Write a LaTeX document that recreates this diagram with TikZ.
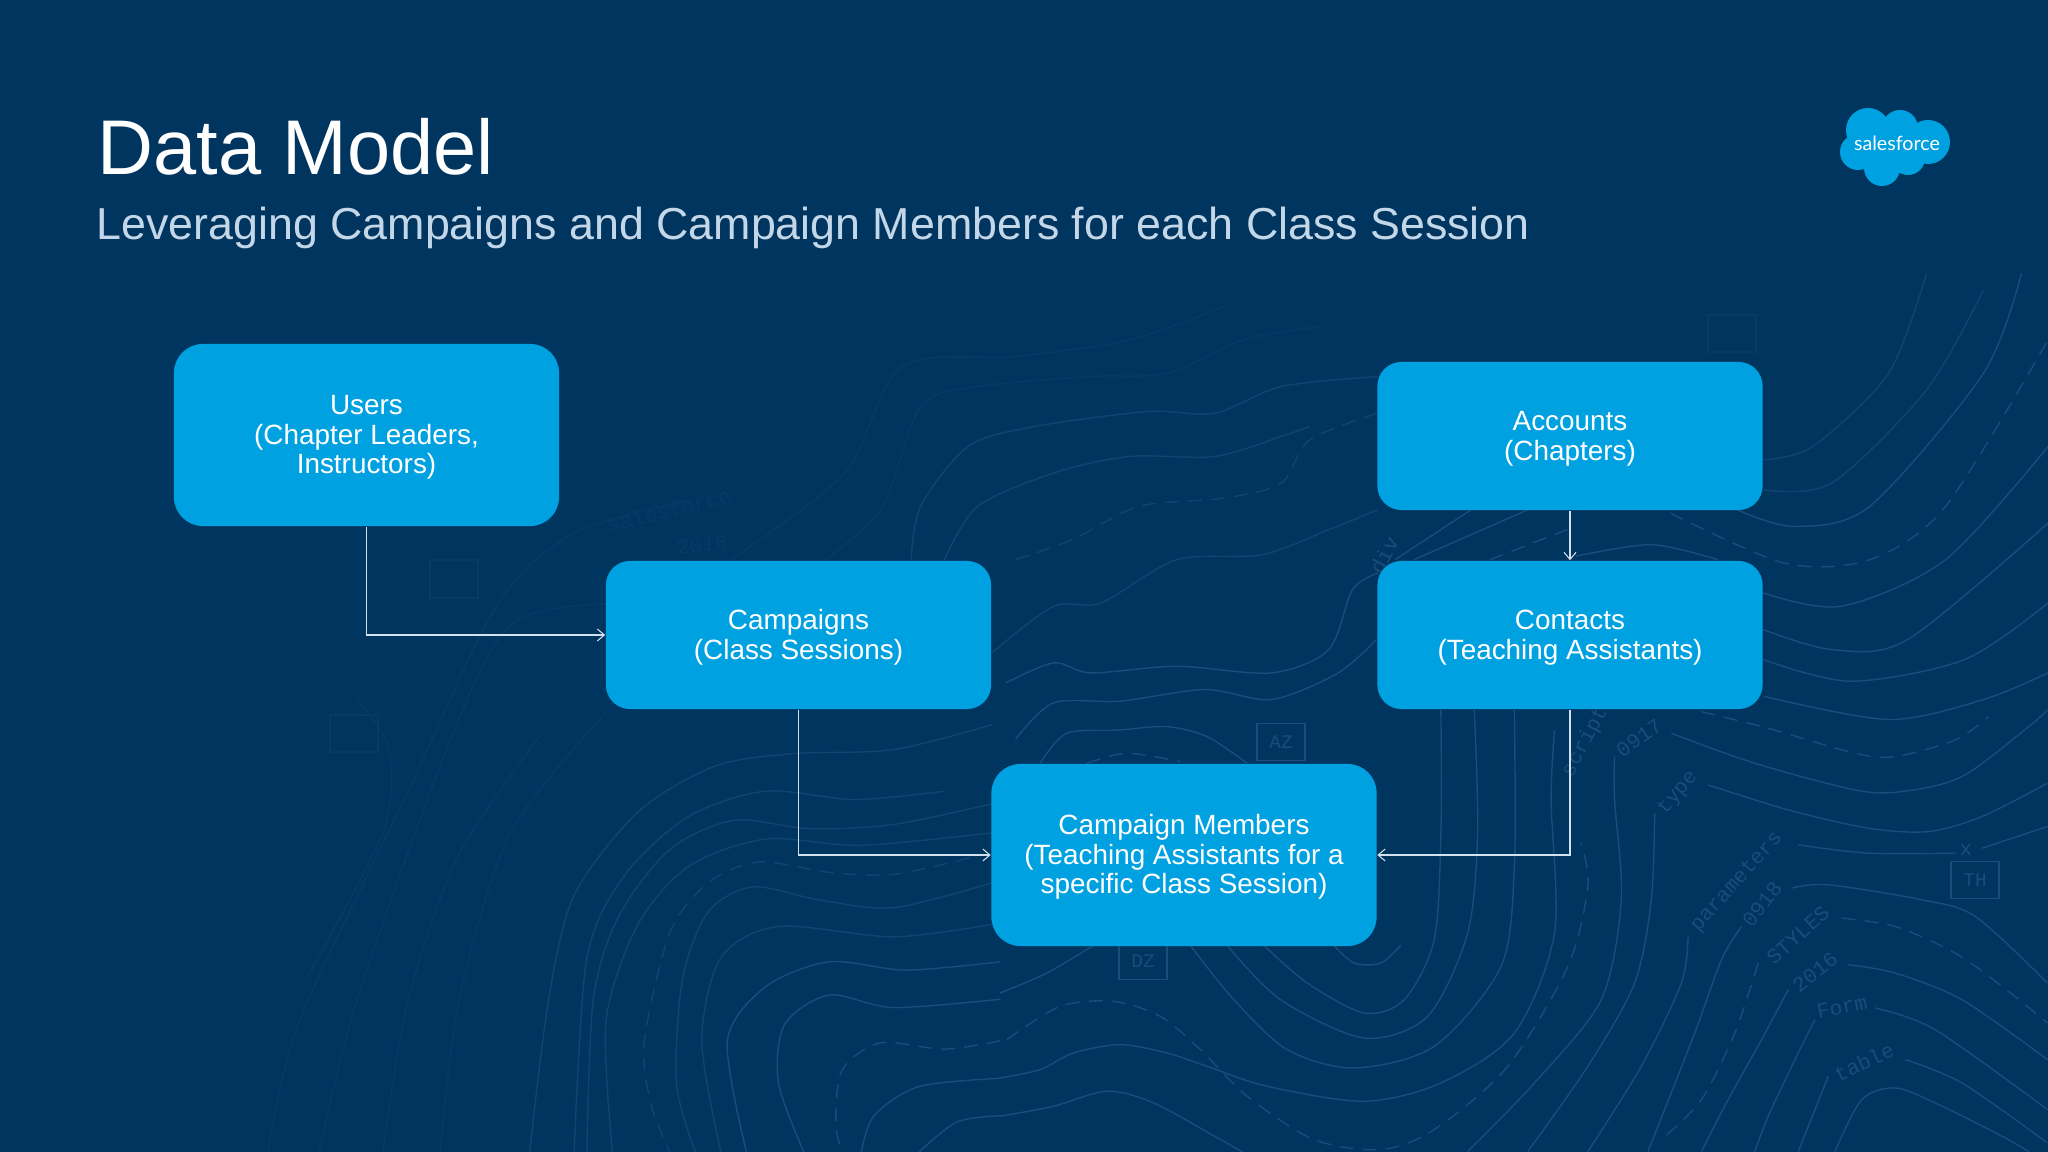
\documentclass[tikz,border=0pt]{standalone}
\usepackage{fontspec}
\setmainfont{Liberation Sans}
\newfontfamily\codefont{Liberation Mono}
\newfontfamily\logofont{Lato}
\usetikzlibrary{arrows.meta}
\newcommand{\topgap}{\rule{0pt}{6.8pt}}
\definecolor{slide}{HTML}{003560}
\definecolor{boxblue}{HTML}{00A1E0}
\definecolor{contour}{HTML}{1C4C79}
\definecolor{contourmid}{HTML}{124470}
\definecolor{contourfaint}{HTML}{083A66}
\definecolor{subtitle}{HTML}{C3D7E8}
\definecolor{linkline}{HTML}{D3E1EE}
\tikzset{
  entity/.style={fill=boxblue, text=white, align=center, minimum width=3.85cm, inner sep=0pt,
    font=\fontsize{7.93}{8.5}\selectfont},
  small/.style={entity, minimum height=1.48cm, rounded corners=0.24cm},
  large/.style={entity, minimum height=1.82cm, rounded corners=0.29cm},
  link/.style={draw=linkline, line width=0.3pt, -{Straight Barb[length=2pt,width=3.4pt]}},
  level/.style={draw=contour, line width=0.4pt},
  leveldash/.style={level, dash pattern=on 0.14cm off 0.09cm},
  levelmid/.style={draw=contourmid, line width=0.4pt},
  levelmiddash/.style={levelmid, dash pattern=on 0.14cm off 0.09cm},
  levelfaint/.style={draw=contourfaint, line width=0.4pt},
  tag/.style={font=\codefont\fontsize{6}{7}\selectfont, text=contour, inner sep=0pt},
  tagfaint/.style={tag, text=contourfaint},
  codebox/.style={tag, draw=contour, line width=0.4pt, minimum width=0.48cm, minimum height=0.37cm, font=\codefont\fontsize{5.5}{6}\selectfont}
}
\begin{document}
\begin{tikzpicture}[x=0.01cm,y=-0.01cm]
\useasboundingbox (0,0) rectangle (2048,1152);
\fill[slide] (0,0) rectangle (2048,1152);
\begin{scope}
\clip (0,0) rectangle (2048,1152);
% lower right
\begin{scope}[shift={(1000,700)},xscale=0.668,yscale=0.333]
\draw[level] plot[smooth] coordinates {(395,737) (460,850) (545,940) (605,900) (650,720) (660,400) (660,30)};
\draw[level] plot[smooth] coordinates {(340,737) (420,900) (545,1015) (640,950) (700,700) (715,400) (710,30)};
\draw[level] plot[smooth] coordinates {(285,737) (350,900) (430,1050) (530,1105) (650,1040) (750,800) (770,500) (770,30)};
\draw[level] plot[smooth] coordinates {(0,1135) (60,1110) (110,1060) (180,1035) (250,1060) (310,1100) (400,1160) (545,1205) (660,1150) (770,1000) (830,700) (825,300) (830,90)};
\draw[leveldash] plot[smooth] coordinates {(10,1020) (90,920) (170,905) (240,950) (300,1050) (370,1190) (470,1320) (570,1350) (650,1290) (760,1100) (850,800) (880,560) (870,430)};
\draw[level] plot[smooth] coordinates {(0,1250) (80,1220) (160,1175) (230,1210) (330,1320) (400,1400)};
\draw[level] plot[smooth] coordinates {(0,880) (70,820) (140,737)};
\draw[level] plot[smooth] coordinates {(60,190) (100,100) (180,90) (250,80) (310,110) (370,190)};
\draw[leveldash] plot[smooth] coordinates {(130,190) (190,160) (270,185)};
\draw[level] plot[smooth] coordinates {(600,737) (570,790) (530,790) (500,737)};
\draw[level] plot[smooth] coordinates {(920,170) (920,300) (930,600) (900,900) (800,1150) (700,1356)};
\draw[level] plot[smooth] coordinates {(980,340) (975,600) (950,850) (880,1100) (790,1356)};
\draw[level] plot[smooth] coordinates {(1030,710) (1020,850) (960,1100) (880,1356)};
\draw[level] plot[smooth] coordinates {(1110,680) (1080,780) (1040,1000) (970,1356)};
\draw[leveldash] plot[smooth] coordinates {(1135,790) (1100,1000) (1050,1200) (990,1320)};
\draw[level] plot[smooth] coordinates {(1180,870) (1140,1020) (1090,1200) (1050,1356)};
\draw[level] plot[smooth] coordinates {(1220,960) (1190,1080) (1150,1250) (1130,1356)};
\draw[level] plot[smooth] coordinates {(1240,1130) (1210,1280) (1195,1356)};
\draw[level] plot[smooth] coordinates {(1250,1356) (1290,1200) (1340,1165) (1400,1210) (1500,1310) (1540,1356)};
\draw[level] plot[smooth] coordinates {(1005,100) (1130,190) (1280,270) (1350,275) (1440,230) (1540,80) (1568,30)};
\draw[level] plot[smooth] coordinates {(1060,255) (1180,330) (1300,385) (1390,395) (1470,350) (1568,250)};
\draw[level] plot[smooth] coordinates {(1195,435) (1300,460) (1430,460)};
\draw[level] plot[smooth] coordinates {(1470,445) (1568,380)};
\draw[level] plot[smooth] coordinates {(1185,565) (1240,555) (1380,600) (1460,650) (1568,850)};
\draw[leveldash] plot[smooth] coordinates {(1260,655) (1340,680) (1430,760) (1500,860) (1568,970)};
\draw[level] plot[smooth] coordinates {(1270,795) (1340,820) (1440,900) (1568,1080)};
\draw[level] plot[smooth] coordinates {(1310,925) (1400,990) (1568,1230)};
\draw[level] plot[smooth] coordinates {(1355,1080) (1440,1150) (1568,1330)};
\draw[leveldash] plot[smooth] coordinates {(1050,35) (1150,85) (1280,160) (1340,170) (1430,120) (1480,50)};
\end{scope}
% lower left
\begin{scope}[xscale=0.638,yscale=0.416,shift={(0,1202)}]
\draw[levelmid] plot[smooth] coordinates {(1555,540) (1400,600) (1240,610) (1120,640) (1000,750) (900,950) (860,1200) (830,1568)};
\draw[levelmid] plot[smooth] coordinates {(1480,700) (1340,720) (1200,700) (1080,760) (980,900) (920,1100) (900,1568)};
\draw[levelmid] plot[smooth] coordinates {(1555,730) (1400,780) (1270,790) (1150,770) (1050,840) (970,1000) (930,1200) (920,1568)};
\draw[levelmid] plot[smooth] coordinates {(1555,800) (1350,830) (1200,815) (1080,880) (1000,1020) (950,1250) (960,1568)};
\draw[levelmiddash] plot[smooth] coordinates {(1520,860) (1400,900) (1300,895) (1190,870) (1110,920) (1050,1040) (1010,1300) (1020,1450) (1050,1568)};
\draw[levelmid] plot[smooth] coordinates {(1555,920) (1400,980) (1280,960) (1180,930) (1110,990) (1070,1150) (1060,1400) (1090,1568)};
\draw[levelmid] plot[smooth] coordinates {(1555,1020) (1400,1050) (1220,1025) (1130,1100) (1100,1300) (1130,1568)};
\draw[level] plot[smooth] coordinates {(1568,1110) (1420,1130) (1300,1110) (1200,1170) (1140,1300) (1170,1568)};
\draw[level] plot[smooth] coordinates {(1568,1200) (1400,1220) (1300,1190) (1230,1260) (1220,1400) (1260,1568)};
\draw[leveldash] plot[smooth] coordinates {(1568,1300) (1480,1320) (1380,1305) (1320,1370) (1310,1500) (1320,1568)};
\draw[level] plot[smooth] coordinates {(1568,1390) (1440,1410) (1370,1480) (1350,1568)};
\draw[level] plot[smooth] coordinates {(1568,1480) (1500,1495) (1440,1568)};
\draw[levelfaint] plot[smooth] coordinates {(950,510) (800,800) (720,1200) (690,1568)};
\draw[levelfaint] plot[smooth] coordinates {(850,560) (720,850) (640,1200) (600,1568)};
\draw[levelfaint] plot[smooth] coordinates {(950,250) (800,300) (700,600) (560,1200) (500,1568)};
\draw[levelfaint] plot[smooth] coordinates {(1080,0) (900,80) (780,250) (640,700) (470,1250) (420,1568)};
\draw[levelfaint] plot[smooth] coordinates {(560,480) (610,600) (600,800) (480,1150)};
\end{scope}
% upper middle and right
\begin{scope}[shift={(560,240)},xscale=0.949,yscale=0.333]
\draw[levelmid] plot[smooth] coordinates {(405,960) (440,800) (520,700) (600,650) (690,650) (760,590) (790,560)};
\draw[levelmid] plot[smooth] coordinates {(370,960) (380,800) (430,620) (500,560) (620,515) (690,520) (760,440) (862,410)};
\draw[levelfaint] plot[smooth] coordinates {(280,960) (340,800) (380,500) (440,440) (560,410) (640,400) (720,300) (800,260)};
\draw[levelfaint] plot[smooth] coordinates {(180,960) (300,700) (360,380) (480,350) (600,300) (700,200)};
\draw[levelmiddash] plot[smooth] coordinates {(480,960) (540,900) (610,800) (700,775) (760,730) (790,600) (862,520)};
\draw[levelmid] plot[smooth] coordinates {(455,1240) (520,1100) (570,1090) (650,960) (740,945) (810,870) (862,810)};
\draw[level] plot[smooth] coordinates {(470,1330) (520,1270) (560,1300) (650,1280) (750,1300) (810,1230) (835,1050) (862,1000)};
\draw[level] plot[smooth] coordinates {(480,1500) (520,1390) (590,1385) (680,1350) (750,1380) (820,1300) (860,1200)};
\draw[levelmid] plot[smooth] coordinates {(1268,660) (1320,620) (1400,400) (1440,100)};
\draw[levelmid] plot[smooth] coordinates {(1268,750) (1340,730) (1440,450) (1500,150)};
\draw[level] plot[smooth] coordinates {(1240,810) (1300,860) (1380,800) (1500,400) (1540,100)};
\draw[leveldash] plot[smooth] coordinates {(1170,820) (1290,970) (1380,960) (1460,800) (1568,300)};
\draw[level] plot[smooth] coordinates {(1268,1060) (1350,1100) (1460,960) (1568,620)};
\draw[level] plot[smooth] coordinates {(1268,1170) (1340,1230) (1420,1200) (1568,850)};
\draw[level] plot[smooth] coordinates {(1268,1260) (1360,1325) (1480,1260) (1568,1090)};
\draw[level] plot[smooth] coordinates {(1268,1370) (1400,1440) (1500,1380) (1568,1300)};
\draw[level] plot[smooth] coordinates {(1070,950) (1150,915) (1220,960)};
\draw[level] plot[smooth] coordinates {(880,960) (960,810)};
\draw[level] plot[smooth] coordinates {(900,960) (1020,810)};
\draw[leveldash] plot[smooth] coordinates {(980,960) (1070,860)};
\end{scope}
\node[tag,rotate=50] (tagtype) at (1678,793) {type};
\node[tag,rotate=35] (tagfirst) at (1639,738) {0917};
\node[tag,rotate=48] (tagparam) at (1737,882) {parameters};
\node[tag,rotate=52] (tagsecond) at (1762,904) {0918};
\node[tag,rotate=42] (tagstyles) at (1798,935) {STYLES};
\node[tag,rotate=38] (tagyear) at (1815,972) {2016};
\node[tag,rotate=12] (tagform) at (1842,1007) {Form};
\node[tag,rotate=25] (tagtable) at (1864,1062) {table};
\node[tag] (tagx) at (1966,850) {x};
\node[tag,rotate=62] (tagdiv) at (1384,555) {div};
\node[tag,rotate=62] (tagscript) at (1585,742) {script};
\node[tagfaint,rotate=14] (tagsales) at (669,510) {salesforce};
\node[tagfaint,rotate=5] (tagolder) at (702,545) {2016};
\node[codebox] (boxaz) at (1281,742) {AZ};
\node[codebox] (boxdz) at (1143,961) {DZ};
\node[codebox] (boxth) at (1975,880) {TH};
\draw[contourfaint,line width=0.4pt] (430,560) rectangle (478,598);
\draw[contourfaint,line width=0.4pt] (330,715) rectangle (378,752);
\draw[contourfaint,line width=0.4pt] (1708,315) rectangle (1756,352);
\end{scope}
% title
\node[anchor=base west,inner sep=0pt,text=white,font=\fontsize{22.05}{26}\selectfont] (title) at (97,175) {Data Model};
\node[anchor=base west,inner sep=0pt,text=subtitle,font=\fontsize{12.73}{14}\selectfont] (sub) at (96,240) {Leveraging Campaigns and Campaign Members for each Class Session};
% logo
\fill[boxblue] (1868,130) circle (22) (1900,128) circle (18) (1928,142) circle (22) (1858,152) circle (18) (1882,168) circle (18) (1908,158) circle (17) (1890,150) circle (22);
\node[text=white,inner sep=0pt,font=\logofont\fontsize{5.6}{6}\selectfont] (logo) at (1897,143) {salesforce};
% boxes
\node[large] (users) at (366.5,435) {\topgap Users\\(Chapter Leaders,\\Instructors)};
\node[small] (campaigns) at (798.5,635) {\topgap Campaigns\\(Class Sessions)};
\node[small] (accounts) at (1570,436) {\topgap Accounts\\(Chapters)};
\node[small] (contacts) at (1570,635) {\topgap Contacts\\(Teaching Assistants)};
\node[large] (members) at (1184,855) {\topgap Campaign Members\\(Teaching Assistants for a\\specific Class Session)};
% links
\draw[link] (users.south) |- (campaigns.west);
\draw[link] (accounts.south) -- (contacts.north);
\draw[link] (campaigns.south) |- (members.west);
\draw[link] (contacts.south) |- (members.east);
\end{tikzpicture}
\end{document}
